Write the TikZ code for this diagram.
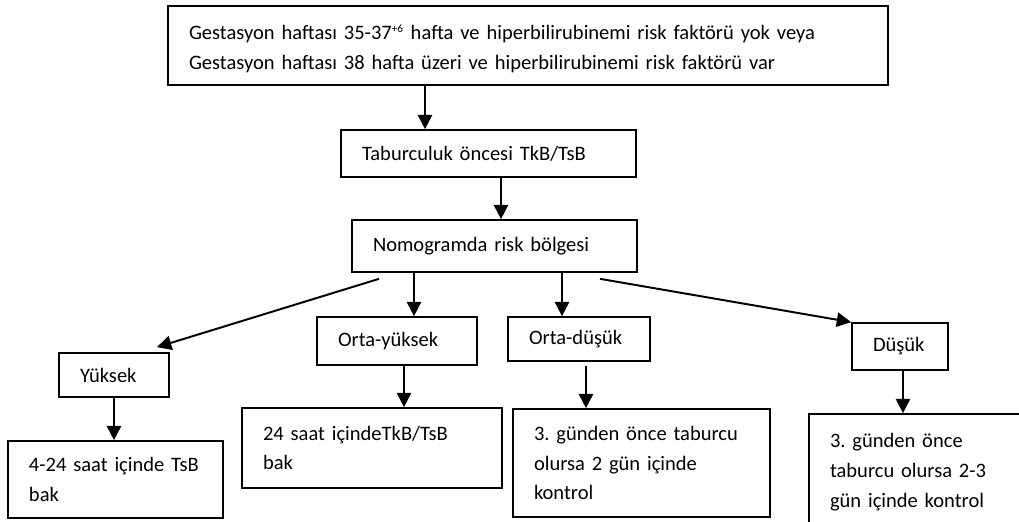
\documentclass[tikz,border=0pt]{standalone}
\usepackage{fontspec}
\setmainfont{Carlito}
\usepackage{tikz}
\usetikzlibrary{arrows.meta,positioning,calc}
\frenchspacing
\newcommand{\widespaces}{\spaceskip=4.9pt\relax}

\begin{document}
\begin{tikzpicture}[
    box/.style={draw, line width=1.2pt, align=left, inner xsep=0.525cm, inner ysep=0pt,
        font=\fontsize{14.6}{21.2}\selectfont},
    arrow/.style={-{Triangle[length=3.6mm, width=3.6mm]}, line width=1.4pt}
]
\useasboundingbox (0,0) rectangle (25.475,-13.05);
\clip (0,0) rectangle (25.475,-13.05);

\node[box, text width=16.95cm, minimum height=1.975cm] (gest) at (13.2,-1.1375)
    {\widespaces\strut Gestasyon haftası 35-37\textsuperscript{\footnotesize+6} hafta ve hiperbilirubinemi risk faktörü yok veya\\
     \widespaces Gestasyon haftası 38 hafta üzeri ve hiperbilirubinemi risk faktörü var};
\node[box, text width=6.325cm, minimum height=1.175cm] (tab) at (12.2125,-3.8375) {Taburculuk öncesi TkB/TsB};
\node[box, text width=6.075cm, minimum height=1.3cm] (nomo) at (12.3625,-6.15) {Nomogramda risk bölgesi};

\node[box, text width=1.7cm, minimum height=1.1cm] (yuksek) at (2.85,-9.375) {Yüksek};
\node[box, text width=2.95cm, minimum height=1.2cm] (ortay) at (9.925,-8.525) {Orta-yüksek};
\node[box, text width=2.5cm, minimum height=1.1cm] (ortad) at (14.475,-8.475) {Orta-düşük};
\node[box, text width=1.35cm, minimum height=1.175cm] (dusuk) at (22.5,-8.6625) {Düşük};

\node[box, text width=4.325cm, minimum height=1.925cm] (yuksekk) at (2.8875,-11.9875) {4-24 saat içinde TsB\\bak};
\node[box, text width=5.45cm, minimum height=2.0cm] (ortayk) at (9.3,-11.2) {24 saat içindeTkB/TsB\\bak};
\node[box, text width=5.375cm, minimum height=2.7cm] (ortadk) at (16.0375,-11.575) {3. günden önce taburcu\\olursa 2 gün içinde\\kontrol};
\node[box, text width=4.55cm, minimum height=2.9cm] (dusukk) at (23.025,-11.8) {3. günden önce\\taburcu olursa 2-3\\gün içinde kontrol};

% vertical arrows
\draw[arrow] ([xshift=-2.575cm]gest.south) -- ([xshift=-2.575cm]gest.south |- tab.north);
\draw[arrow] ([xshift=0.3125cm]tab.south) -- ([xshift=0.3125cm]tab.south |- nomo.north);
\draw[arrow] ([xshift=-2.0125cm]nomo.south) -- ([xshift=-2.0125cm]nomo.south |- ortay.north);
\draw[arrow] ([xshift=1.6875cm]nomo.south) -- ([xshift=1.6875cm]nomo.south |- ortad.north);
% diagonal arrows
\draw[arrow] ([xshift=-2.8875cm, yshift=-0.15cm]nomo.south) -- ([xshift=1.075cm, yshift=0.125cm]yuksek.north);
\draw[arrow] ([xshift=2.6375cm, yshift=-0.15cm]nomo.south) -- (dusuk.north west);

\draw[arrow] (yuksek.south) -- (yuksek.south |- yuksekk.north);
\draw[arrow] ([xshift=0.175cm]ortay.south) -- ([xshift=0.175cm]ortay.south |- ortayk.north);
\draw[arrow] ([xshift=0.175cm, yshift=-0.1cm]ortad.south) -- ([xshift=0.175cm]ortad.south |- ortadk.north);
\draw[arrow] ([xshift=0.075cm]dusuk.south) -- ([xshift=0.075cm]dusuk.south |- dusukk.north);
\end{tikzpicture}
\end{document}
